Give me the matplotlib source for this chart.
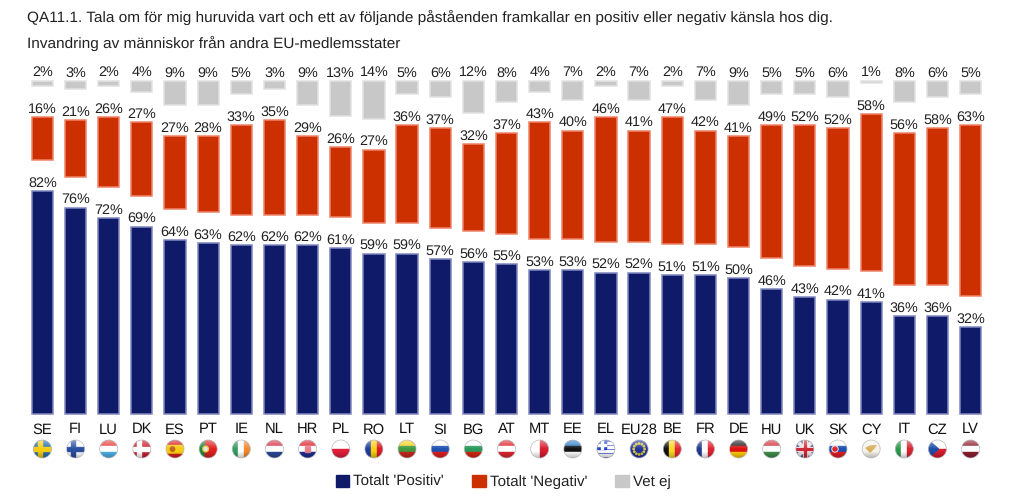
#!/usr/bin/env python
# -*- coding: utf-8 -*-
import numpy as np
import matplotlib
matplotlib.use('Agg')
import matplotlib.pyplot as plt
from matplotlib.patches import Circle, Rectangle, Polygon, Patch

plt.rcParams['font.family'] = ['Liberation Sans', 'DejaVu Sans']
plt.rcParams['text.hinting'] = 'no_hinting'
plt.rcParams['text.hinting_factor'] = 8

titre_1 = "QA11.1. Tala om för mig huruvida vart och ett av följande påståenden framkallar en positiv eller negativ känsla hos dig."
titre_2 = "Invandring av människor från andra EU-medlemsstater"

pays = ['SE', 'FI', 'LU', 'DK', 'ES', 'PT', 'IE', 'NL', 'HR', 'PL', 'RO', 'LT', 'SI', 'BG', 'AT',
        'MT', 'EE', 'EL', 'EU28', 'BE', 'FR', 'DE', 'HU', 'UK', 'SK', 'CY', 'IT', 'CZ', 'LV']
positif = [82, 76, 72, 69, 64, 63, 62, 62, 62, 61, 59, 59, 57, 56, 55,
           53, 53, 52, 52, 51, 51, 50, 46, 43, 42, 41, 36, 36, 32]
negatif = [16, 21, 26, 27, 27, 28, 33, 35, 29, 26, 27, 36, 37, 32, 37,
           43, 40, 46, 41, 47, 42, 41, 49, 52, 52, 58, 56, 58, 63]
vet_ej = [2, 3, 2, 4, 9, 9, 5, 3, 9, 13, 14, 5, 6, 12, 8,
          4, 7, 2, 7, 2, 7, 9, 5, 5, 6, 1, 8, 6, 5]
legende = ["Totalt 'Positiv'", "Totalt 'Negativ'", "Vet ej"]

# couleurs des drapeaux
bandes_h = {
    'LU': ['#e8413c', '#ffffff', '#4fb3e8'], 'NL': ['#d8364a', '#ffffff', '#2a4a94'],
    'LT': ['#f5d020', '#3d9a3d', '#c8281e'], 'SI': ['#ffffff', '#2050b0', '#e02020'],
    'BG': ['#ffffff', '#2a9a5a', '#d62612'], 'AT': ['#e0282e', '#ffffff', '#e0282e'],
    'EE': ['#2f7fc8', '#111111', '#ffffff'], 'DE': ['#222222', '#dd1111', '#ffcc00'],
    'HU': ['#d2343c', '#ffffff', '#3f8f4a'], 'SK': ['#ffffff', '#1c4fb0', '#e01f26'],
    'LV': ['#8e1f2e', '#ffffff', '#8e1f2e'], 'HR': ['#e0202c', '#ffffff', '#1f2f90'],
    'PL': ['#ffffff', '#e0203a'], 'CZ': ['#ffffff', '#d81e2c'],
    'ES': ['#d81e20', '#f8cc10', '#f8cc10', '#d81e20'],
}
bandes_v = {
    'RO': ['#1f3f9f', '#f8d010', '#d81e26'], 'IE': ['#2f9f5a', '#ffffff', '#f08a30'],
    'BE': ['#111111', '#f8d820', '#e02530'], 'FR': ['#1f3a90', '#ffffff', '#e0222e'],
    'IT': ['#2a9a4a', '#ffffff', '#d82430'], 'MT': ['#ffffff', '#d81e2e'],
    'PT': ['#1f8a3a', '#e02020', '#e02020'],
}
croix = {'SE': ('#2a6fb0', '#f5cc10'), 'FI': ('#ffffff', '#2a4f9f'), 'DK': ('#cc2030', '#ffffff')}


def dessiner_drapeau(ax, code, x, y, r):
    cercle = Circle((x, y), r, transform=ax.transData)
    formes = []
    if code in bandes_h:
        couleurs = bandes_h[code]
        for i, c in enumerate(couleurs):
            h = 2 * r / len(couleurs)
            formes.append(Rectangle((x - r, y - r + i * h), 2 * r, h, color=c))
    elif code in bandes_v:
        couleurs = bandes_v[code]
        for i, c in enumerate(couleurs):
            w = 2 * r / len(couleurs)
            formes.append(Rectangle((x - r + i * w, y - r), w, 2 * r, color=c))
    elif code in croix:
        fond, c = croix[code]
        formes.append(Rectangle((x - r, y - r), 2 * r, 2 * r, color=fond))
        formes.append(Rectangle((x - r, y - 1.8), 2 * r, 3.6, color=c))
        formes.append(Rectangle((x - 4.5, y - r), 3.6, 2 * r, color=c))
    elif code == 'EL':
        formes.append(Rectangle((x - r, y - r), 2 * r, 2 * r, color='#2040c8'))
        for i in range(4):
            formes.append(Rectangle((x - r, y - r + 2 + i * 4), 2 * r, 2, color='#ffffff'))
        formes.append(Rectangle((x - r, y - r), r, r, color='#2040c8'))
        formes.append(Rectangle((x - r, y - 5), r, 2, color='#ffffff'))
        formes.append(Rectangle((x - 5, y - r), 2, r, color='#ffffff'))
    elif code == 'EU28':
        formes.append(Rectangle((x - r, y - r), 2 * r, 2 * r, color='#24339a'))
        for a in np.linspace(0, 2 * np.pi, 12, endpoint=False):
            formes.append(Circle((x + 5.5 * np.cos(a), y + 5.5 * np.sin(a)), 0.7, color='#d8c840'))
    elif code == 'UK':
        formes.append(Rectangle((x - r, y - r), 2 * r, 2 * r, color='#2f3f88'))
        for signe in (1, -1):
            formes.append(Polygon([(x - r, y - signe * (r - 2)), (x - r, y - signe * r), (x - r + 2, y - signe * r),
                                   (x + r, y + signe * (r - 2)), (x + r, y + signe * r), (x + r - 2, y + signe * r)],
                                  color='#e8e0e0'))
        formes.append(Rectangle((x - r, y - 2.2), 2 * r, 4.4, color='#ffffff'))
        formes.append(Rectangle((x - 2.2, y - r), 4.4, 2 * r, color='#ffffff'))
        formes.append(Rectangle((x - r, y - 1.3), 2 * r, 2.6, color='#cc2838'))
        formes.append(Rectangle((x - 1.3, y - r), 2.6, 2 * r, color='#cc2838'))
    elif code == 'CY':
        formes.append(Rectangle((x - r, y - r), 2 * r, 2 * r, color='#f6f4ea'))
        formes.append(Polygon([(x - 5, y - 1), (x - 1, y - 3), (x + 5, y - 3.5), (x + 2, y), (x - 1, y + 3), (x - 3, y + 1)],
                              color='#d8b060'))
    for f in formes:
        ax.add_patch(f)
        f.set_clip_path(cercle)
    # ajouts : triangles, blasons
    extras = []
    if code == 'CZ':
        extras.append(Polygon([(x - r, y - r), (x + 1, y), (x - r, y + r)], color='#1c4fa8'))
    if code == 'SK':
        extras.append(Circle((x - 3, y), 3.2, color='#d8262c', ec='#ffffff', lw=0.6))
    if code == 'HR':
        extras.append(Rectangle((x - 2.5, y - 3), 5, 6, color='#e8808c'))
    if code == 'ES':
        extras.append(Circle((x - 2.5, y), 2.2, color='#c0641c'))
    if code == 'PT':
        extras.append(Circle((x - 2.5, y), 2.8, color='#e8c840'))
        extras.append(Circle((x - 2.5, y), 1.4, color='#e8e8f0'))
    for f in extras:
        ax.add_patch(f)
        f.set_clip_path(cercle)
    # effet brillant du bouton
    yy, xx = np.mgrid[-1:1:40j, -1:1:40j]
    voile = np.zeros((40, 40, 4))
    haut = np.clip(-yy, 0, 1)
    bas = np.clip(yy - 0.25, 0, 1)
    voile[..., :3] = (haut > 0)[..., None] * 1.0
    voile[..., 3] = 0.45 * haut + 0.35 * bas
    im = ax.imshow(voile, extent=(x - r, x + r, y + r, y - r), zorder=3, interpolation='bilinear', aspect='auto')
    im.set_clip_path(cercle)
    ax.add_patch(Circle((x, y), r, fc='none', ec='#b8b8c0', lw=0.5, zorder=4))


def creer_graphe():
    fig = plt.figure(figsize=(10.24, 4.99), dpi=100, facecolor='white')
    ax = fig.add_axes([0, 0, 1, 1])

    x0, pas = 42.4, 33.15     # pixels
    y0, echelle = 413.5, 2.71
    ecart = 11.4              # vide entre les séries, en %
    largeur = 0.64

    x = np.arange(len(pays))
    pos = np.array(positif)
    neg = np.array(negatif)
    vet = np.array(vet_ej)
    bas_neg = pos + ecart
    bas_vet = pos + neg + 2 * ecart

    ax.bar(x, pos, largeur, color='#0f1b68', edgecolor='#8088c0', linewidth=1.1)
    ax.bar(x, neg, largeur, bottom=bas_neg, color='#cc3000', edgecolor='#ee8468', linewidth=1.1)
    ax.bar(x, vet, largeur, bottom=bas_vet, color='#c8c8c8', edgecolor='#e2e2e2', linewidth=1.1)

    ax.set_xlim(-x0 / pas, (1024 - x0) / pas)
    ax.set_ylim(-(499 - y0) / echelle, y0 / echelle)
    ax.axis('off')

    fs = 10.4
    coul = '#222222'
    for i in x:
        ax.annotate(f'{positif[i]}%', (i, pos[i]), xytext=(0, 1), textcoords='offset points',
                    ha='center', va='bottom', fontsize=fs, color=coul)
        ax.annotate(f'{negatif[i]}%', (i, bas_neg[i] + neg[i]), xytext=(0, 1), textcoords='offset points',
                    ha='center', va='bottom', fontsize=fs, color=coul)
        ax.annotate(f'{vet_ej[i]}%', (i, bas_vet[i] + vet[i]), xytext=(0, 1), textcoords='offset points',
                    ha='center', va='bottom', fontsize=fs, color=coul)
        ax.annotate(pays[i], (i, 0), xytext=(0, -6.5), textcoords='offset points',
                    ha='center', va='top', fontsize=10.6, color='#111111')

    fig.text(27 / 1024, 1 - 17 / 499, titre_1, fontsize=11.05, color='#222222', va='center')
    fig.text(27 / 1024, 1 - 43 / 499, titre_2, fontsize=11.05, color='#222222', va='center')

    # drapeaux, en pixels
    ax_fl = fig.add_axes([0, 0, 1, 1], facecolor='none')
    for i, code in enumerate(pays):
        dessiner_drapeau(ax_fl, code, x0 + i * pas, 449, 9)
    ax_fl.set_xlim(0, 1024)
    ax_fl.set_ylim(499, 0)
    ax_fl.axis('off')

    poignees = [Patch(color='#0f1b68'), Patch(color='#cc3000'), Patch(color='#c8c8c8')]
    ax.legend(poignees, legende, loc='center left', bbox_to_anchor=(331 / 1024, 1 - 482 / 499),
              ncol=3, frameon=False, fontsize=10.9, handlelength=0.9, handleheight=0.9,
              handletextpad=0.27, columnspacing=1.85, borderpad=0.3, borderaxespad=0,
              labelcolor='#222222')

    fig.savefig('out.png', dpi=100)


if __name__ == '__main__':
    creer_graphe()
